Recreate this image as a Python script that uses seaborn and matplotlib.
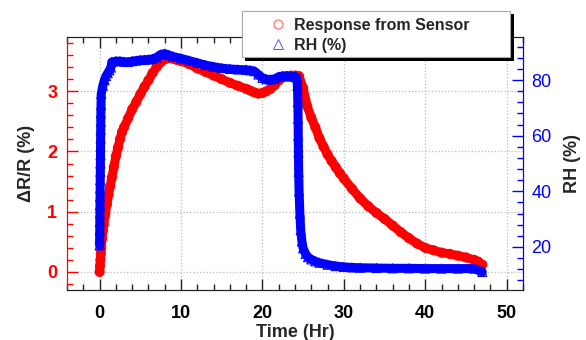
import matplotlib
matplotlib.use('Agg')
import matplotlib.pyplot as plt
import seaborn as sns
from matplotlib.lines import Line2D
from matplotlib.patches import Rectangle
from matplotlib.ticker import MultipleLocator

# sensor response (left axis)
t_resp = [0, 0.05, 0.1, 0.15, 0.2, 0.3, 0.4, 0.5, 0.7, 0.9, 1.1, 1.3, 1.5, 1.75, 2, 2.25, 2.5, 2.75,
          3, 3.5, 4, 4.5, 5, 5.5, 6, 6.5, 7, 7.5, 8, 8.5, 9, 9.5, 10, 11, 12, 13, 14, 15, 16, 17,
          18, 18.5, 19, 19.5, 20, 20.5, 21, 21.5, 22, 22.5, 23, 23.5, 24, 24.5, 25, 25.5, 26, 26.5,
          27, 27.5, 28, 28.5, 29, 29.5, 30, 31, 32, 33, 34, 35, 36, 37, 38, 39, 40, 41, 42, 43,
          44, 45, 46, 46.5, 47]
resp = [0.0, 0.1, 0.2, 0.3, 0.4, 0.55, 0.68, 0.78, 0.95, 1.12, 1.28, 1.42, 1.56, 1.74, 1.92, 2.06, 2.2, 2.32,
        2.4, 2.55, 2.7, 2.82, 2.95, 3.07, 3.18, 3.3, 3.4, 3.48, 3.53, 3.55, 3.54, 3.52, 3.5, 3.45, 3.38, 3.32, 3.26, 3.2, 3.14, 3.09,
        3.04, 3.01, 2.98, 2.96, 2.97, 3.0, 3.04, 3.1, 3.18, 3.23, 3.25, 3.26, 3.26, 3.25, 3.05, 2.75, 2.56, 2.4,
        2.22, 2.08, 1.95, 1.84, 1.74, 1.64, 1.55, 1.38, 1.22, 1.09, 0.98, 0.88, 0.77, 0.66, 0.56, 0.47, 0.4, 0.36, 0.32, 0.3,
        0.27, 0.24, 0.2, 0.17, 0.12]

# relative humidity (right axis)
t_rh = [0, 0.01, 0.02, 0.03, 0.04, 0.05, 0.06, 0.07, 0.08, 0.09, 0.1, 0.11, 0.12, 0.13, 0.14, 0.15, 0.16, 0.18,
        0.2, 0.4, 0.6, 0.8, 1.0, 1.2, 1.4, 1.5, 2, 2.5, 3, 3.5, 4, 4.5, 5, 5.5, 6, 6.5, 7, 7.5, 8, 8.5, 9,
        10, 11, 12, 13, 14, 15, 16, 17, 18, 18.5, 19, 19.5, 20, 20.5, 21, 21.5, 22, 22.5, 23, 23.5, 24, 24.2,
        24.3, 24.35, 24.38, 24.4, 24.42, 24.45, 24.5, 24.6, 24.7, 24.85, 25, 25.3, 25.6, 26, 26.5, 27, 28, 29,
        30, 31, 32, 34, 36, 38, 40, 42, 44, 46, 47]
rh = [20.5, 23, 26, 29, 32, 35, 38, 41, 44, 47, 50, 53, 56, 59, 62, 65, 68, 71,
      75, 78, 80, 81.5, 82.5, 83.5, 84.5, 86.5, 86.8, 86.8, 86.6, 86.5, 86.8, 87, 87.2, 87.3, 87.4, 87.6, 88.2, 89.2, 89.5, 89.0, 88.5,
      87.8, 87, 86.2, 85.4, 84.8, 84.3, 84, 83.8, 83.7, 83.5, 83.2, 82, 80.8, 80.3, 80.2, 80.4, 81.2, 81.5, 81.4, 81.3, 81.2, 81,
      78, 72, 66, 60, 54, 47, 40, 32, 26, 22, 19.5, 17.5, 16.3, 15.5, 14.8, 14.3, 13.6, 13.1,
      12.8, 12.6, 12.5, 12.4, 12.3, 12.3, 12.2, 12.2, 12.2, 12.2, 11]

sns.set_style('white')
plt.rcParams['font.family'] = ['Liberation Sans', 'DejaVu Sans']

red = '#ff0000'
blue = '#0000ff'

fig = plt.figure(figsize=(5.86, 3.40), dpi=100)
ax = fig.add_axes([67 / 586, 1 - 290 / 340, (523 - 67) / 586, (290 - 37) / 340])
ax2 = ax.twinx()

# response: thick band + open circles
sns.lineplot(x=t_resp, y=resp, ax=ax, color=red, lw=6.5, sort=False, zorder=2)
sns.scatterplot(x=t_resp, y=resp, ax=ax, marker='o', s=42, facecolor='none',
                edgecolor=red, linewidth=0.8, zorder=3)

# RH: thick band + open triangles
sns.lineplot(x=t_rh, y=rh, ax=ax2, color=blue, lw=6.5, sort=False, zorder=2)
sns.scatterplot(x=t_rh, y=rh, ax=ax2, marker='^', s=42, facecolor='none',
                edgecolor=blue, linewidth=0.8, zorder=3)

ax.set_xlim(-4, 52)
ax.set_ylim(-0.3, 3.9)
ax2.set_ylim(4.5, 95.5)

ax.xaxis.set_major_locator(MultipleLocator(10))
ax.xaxis.set_minor_locator(MultipleLocator(2))
ax.yaxis.set_major_locator(MultipleLocator(1))
ax.yaxis.set_minor_locator(MultipleLocator(0.2))
ax2.yaxis.set_major_locator(MultipleLocator(20))
ax2.yaxis.set_minor_locator(MultipleLocator(4))

ax.grid(True, which='major', color='#bbbbbb', linestyle=':', linewidth=0.9)

ax.tick_params(axis='x', which='both', direction='in', top=True, bottom=True, colors='#222222',
               labelsize=13, pad=11)
ax.tick_params(axis='x', labelcolor='black')
ax.tick_params(axis='y', which='both', direction='in', left=True, right=False, colors=red,
               labelsize=13, pad=7)
ax2.tick_params(axis='y', which='both', direction='in', left=False, right=True, colors=blue,
                labelsize=13, pad=6)
for a in (ax, ax2):
    a.tick_params(which='major', length=8, width=1)
    a.tick_params(which='minor', length=4, width=1)
    a.spines['left'].set_color(red)
    a.spines['right'].set_color(blue)
    a.spines['top'].set_color('#222222')
    a.spines['bottom'].set_color('#222222')

for lbl in ax.get_xticklabels() + ax.get_yticklabels():
    lbl.set_fontweight('bold')

ax.set_xlabel('Time (Hr)', fontsize=13, fontweight='bold', labelpad=1)
ax.set_ylabel('ΔR/R (%)', fontsize=13, fontweight='bold', labelpad=9)
ax2.set_ylabel('RH (%)', fontsize=13, fontweight='bold', labelpad=9)

# legend box with shadow
fig.add_artist(Rectangle((245 / 586, 1 - 61 / 340), 269 / 586, 47 / 340, transform=fig.transFigure,
                         facecolor='black', edgecolor='none', zorder=3.8))
fig.add_artist(Rectangle((242 / 586, 1 - 57 / 340), 268 / 586, 46 / 340, transform=fig.transFigure,
                         facecolor='white', edgecolor='#aaaaaa', linewidth=0.8, zorder=3.9))
handles = [Line2D([], [], linestyle='none', marker='o', markersize=6.5, markerfacecolor='none',
                  markeredgecolor='#ff5555', markeredgewidth=0.7),
           Line2D([], [], linestyle='none', marker='^', markersize=6.5, markerfacecolor='none',
                  markeredgecolor='#5555ff', markeredgewidth=0.7)]
leg = fig.legend(handles, ['Response from Sensor', 'RH (%)'], loc='upper left',
                 bbox_to_anchor=(270 / 586, 1 - 18 / 340), frameon=False, borderpad=0,
                 borderaxespad=0, handlelength=1.0, handletextpad=0.5, labelspacing=0.3,
                 prop=dict(weight='bold', size=11.5))
leg.set_zorder(4)

fig.savefig('out.png', dpi=100)
